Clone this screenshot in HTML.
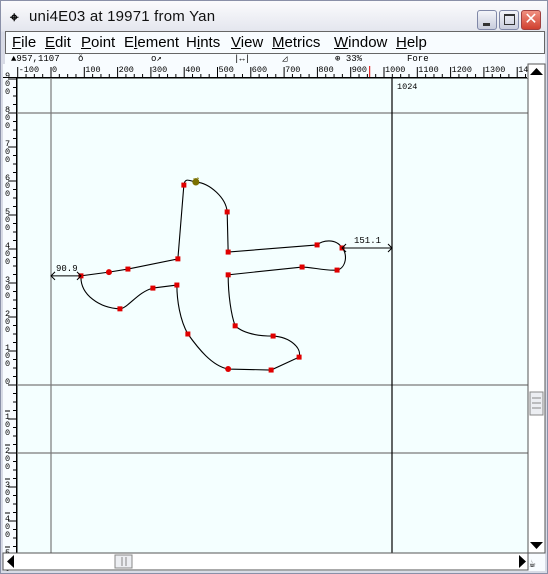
<!DOCTYPE html>
<html><head><meta charset="utf-8"><style>
*{margin:0;padding:0;box-sizing:border-box}
body{width:548px;height:574px;overflow:hidden;background:#c8ccd8;font-family:"Liberation Sans","DejaVu Sans",sans-serif;position:relative}
#win{position:absolute;left:0;top:0;width:548px;height:574px;border:1px solid #8a90a8;background:linear-gradient(#fbfbfd,#e4e6ee 30px,#d8dbe6 31px)}
#title{position:absolute;left:3px;top:3px;width:540px;height:26px}
#title .ico{position:absolute;left:6px;top:5px;font-size:15px;font-weight:bold}
#title .t{position:absolute;left:25px;top:4px;font-size:15px;color:#111;letter-spacing:0.2px}
.btn{position:absolute;top:6px;width:20px;height:20px;border:1px solid #8088a8;border-radius:3px;background:linear-gradient(#f4f5fa,#c8ccdc)}
#menu{position:absolute;left:4px;top:30px;width:540px;height:23px;background:#f8fcff;border:1px solid #666;font-size:15px}
#menu span{position:absolute;top:2px;color:#000}
#info{position:absolute;left:4px;top:53px;width:540px;height:11px;background:#f8fcff;font-family:"Liberation Mono",monospace;font-size:9px;line-height:11px}
#info span{position:absolute;top:0}
svg{position:absolute;left:0;top:0}
</style></head><body>
<div id="win">
<div id="title">
<span class="ico">⌖</span><span class="t">uni4E03 at 19971 from Yan</span>
<div class="btn" style="left:473px"><div style="position:absolute;left:5px;top:12px;width:7px;height:3px;background:#333"></div></div>
<div class="btn" style="left:495px"><div style="position:absolute;left:4px;top:3px;width:11px;height:11px;border:1px solid #333;border-top-width:2px"></div></div>
<div class="btn" style="left:517px;background:linear-gradient(#f09080,#d04030);border-color:#a04040;color:#fff;font-size:16px;text-align:center;line-height:18px">✕</div>
</div>
<div id="menu">
<span style="left:6px"><u>F</u>ile</span>
<span style="left:39px"><u>E</u>dit</span>
<span style="left:75px"><u>P</u>oint</span>
<span style="left:118px">E<u>l</u>ement</span>
<span style="left:180px">H<u>i</u>nts</span>
<span style="left:225px"><u>V</u>iew</span>
<span style="left:266px"><u>M</u>etrics</span>
<span style="left:328px"><u>W</u>indow</span>
<span style="left:390px"><u>H</u>elp</span>
</div>
<div id="info">
<span style="left:6px">▲957,1107</span>
<span style="left:73px">ǒ</span>
<span style="left:146px">o↗</span>
<span style="left:229px">|↔|</span>
<span style="left:277px">◿</span>
<span style="left:330px">⊕ 33%</span>
<span style="left:402px">Fore</span>
</div>
</div>
<svg id="s" width="548" height="574" xmlns="http://www.w3.org/2000/svg" font-family="Liberation Mono, monospace">
<rect x="3" y="64" width="542" height="507" fill="#f8fcff"/>
<rect x="17" y="78" width="511" height="475" fill="#f4ffff" stroke="#000" stroke-width="1"/>
<g id="rulers"></g>
<g id="guides"></g>
<g id="outline"></g>
<g id="labels"></g>
<rect x="528" y="64" width="17" height="489" fill="#fff" stroke="#555"/>
<polygon points="530,75 543,75 536.5,68" fill="#000"/>
<rect x="530" y="392" width="13" height="23" fill="#eceef2" stroke="#888"/>
<line x1="532" y1="398" x2="541" y2="398" stroke="#888"/><line x1="532" y1="403" x2="541" y2="403" stroke="#888"/><line x1="532" y1="408" x2="541" y2="408" stroke="#888"/>
<polygon points="530,542 543,542 536.5,549" fill="#000"/>
<rect x="3" y="553" width="525" height="17" fill="#fff" stroke="#555"/>
<polygon points="14,555 14,568 7,561.5" fill="#000"/>
<polygon points="519,555 519,568 526,561.5" fill="#000"/>
<rect x="115" y="555" width="17" height="13" fill="#eceef2" stroke="#888"/>
<line x1="122" y1="557" x2="122" y2="566" stroke="#888"/><line x1="126" y1="557" x2="126" y2="566" stroke="#888"/>
<text x="529" y="567" font-size="11">☕</text>
</svg>
<script>
// glyph outline data (font units): on-curve points
const ptX=[399,435,529,532,799,874,859,754,532,553,667,745,661,532,411,378,306,207,90,174,231,381];
const ptY=[588,597,509,391,412,403,338,347,324,174,144,82,44,47,150,294,285,224,321,332,341,371];
// off-curve control points per segment (null = straight line)
const c1X=[402,477,null,null,814,892,823,null,532,583,718,null,null,483,387,null,261,147,null,null,null,null];
const c1Y=[612,594,null,null,426,385,335,null,265,147,141,null,null,56,191,null,274,226,null,null,null,null];
const c2X=[417,526,null,null,856,886,784,null,541,634,754,null,null,441,378,null,231,87,null,null,null,null];
const c2Y=[600,550,null,null,432,344,347,null,206,144,109,null,null,109,250,null,226,265,null,null,null,null];
const rulerLabelsX=[-100,0,100,200,300,400,500,600,700,800,900,1000,1100,1200,1300,1400];
const rulerLabelsY=[900,800,700,600,500,400,300,200,100,0,-100,-200,-300,-400,-500];
const advanceWidth=1024, lsbText='90.9', rsbText='151.1';
const NS='http://www.w3.org/2000/svg';
const X0=51,Y0=385,SX=341/1024,SY=0.34;
const fx=v=>X0+v*SX, fy=v=>Y0-v*SY;
function mk(tag,attrs,parent){const e=document.createElementNS(NS,tag);for(const k in attrs)e.setAttribute(k,attrs[k]);parent.appendChild(e);return e;}
const R=document.getElementById('rulers'),G=document.getElementById('guides'),O=document.getElementById('outline'),L=document.getElementById('labels');
mk('rect',{x:3,y:64,width:525,height:14,fill:'#f8fcff'},R);
for(let u=-100;u<=1425;u+=25){const x=fx(u);if(x>527)break;const maj=u%100===0;mk('line',{x1:x,y1:78,x2:x,y2:maj?67:74,stroke:'#000'},R);}
rulerLabelsX.forEach(v=>{const t=mk('text',{x:fx(v)+1,y:72,'font-size':8.5,fill:'#000'},R);t.textContent=String(v);

});
mk('line',{x1:fx(957),y1:66,x2:fx(957),y2:78,stroke:'#e00000'},R);
mk('line',{x1:3,y1:77.5,x2:527,y2:77.5,stroke:'#000'},R);
for(let u=-525;u<=925;u+=25){const y=fy(u);if(y<79||y>552)continue;const maj=u%100===0;mk('line',{x1:17,y1:y,x2:maj?8:13,y2:y,stroke:'#000'},R);}
rulerLabelsY.forEach(v=>{const s=String(Math.abs(v));const y=fy(v);[...s].forEach((c,i)=>{const t=mk('text',{x:5,y:y+(v<0?0:-1)+i*8,'font-size':8.5,fill:'#000'},R);t.textContent=c;});
if(v<0){mk('line',{x1:5,y1:y-8,x2:10,y2:y-8,stroke:'#000'},R);}});
mk('line',{x1:16.5,y1:78,x2:16.5,y2:553,stroke:'#000'},R);
const gl=(x1,y1,x2,y2,c,n)=>{const e=mk('line',{x1,y1,x2,y2,stroke:c,'stroke-width':1.2},G);};
gl(17,fy(800),528,fy(800),'#7a7a7a','ascent-line');
gl(17,fy(0),528,fy(0),'#7a7a7a','baseline');
gl(17,fy(-200),528,fy(-200),'#7a7a7a','descent-line');
gl(fx(0),78,fx(0),553,'#7a7a7a','origin-line');
gl(fx(advanceWidth),78,fx(advanceWidth),553,'#000','advance-width-line');
const wt=mk('text',{x:fx(advanceWidth)+5,y:89,'font-size':8.5},L);wt.textContent=String(advanceWidth);
const n=ptX.length;
let d=`M${fx(ptX[0])},${fy(ptY[0])}`;
for(let i=0;i<n;i++){const j=(i+1)%n;
if(c1X[i]===null){d+=`L${fx(ptX[j])},${fy(ptY[j])}`;}
else d+=`C${fx(c1X[i])},${fy(c1Y[i])} ${fx(c2X[i])},${fy(c2Y[i])} ${fx(ptX[j])},${fy(ptY[j])}`;}
const path=mk('path',{d:d+'Z',fill:'none',stroke:'#000','stroke-width':1.1},O);


ptX.forEach((v,i)=>{const px=fx(v),py=fy(ptY[i]);let e;
if(i===1){e=mk('circle',{cx:px,cy:py,r:3.5,fill:'#7a7000'},O);}
else if(i===19||i===13){e=mk('circle',{cx:px,cy:py,r:3,fill:'#e00000'},O);}
else e=mk('rect',{x:px-2.5,y:py-2.5,width:5,height:5,fill:'#e00000'},O);

});
mk('text',{x:193,y:180,'font-size':10,fill:'#7a7000'},O).textContent='→';
const ar=(x1,x2,y,txt,tx,nm)=>{const g=mk('g',{},L);
mk('line',{x1,y1:y,x2,y2:y,stroke:'#000'},g);
mk('polyline',{points:`${x1+4},${y-4} ${x1},${y} ${x1+4},${y+4}`,fill:'none',stroke:'#000'},g);
mk('polyline',{points:`${x2-4},${y-4} ${x2},${y} ${x2-4},${y+4}`,fill:'none',stroke:'#000'},g);
mk('text',{x:tx,y:y-5,'font-size':9},g).textContent=txt;};
ar(fx(0),fx(ptX[18]),fy(ptY[18]),lsbText,56,'left-bearing');
ar(fx(ptX[5]),fx(advanceWidth),fy(ptY[5]),rsbText,354,'right-bearing');
</script>
</body></html>
